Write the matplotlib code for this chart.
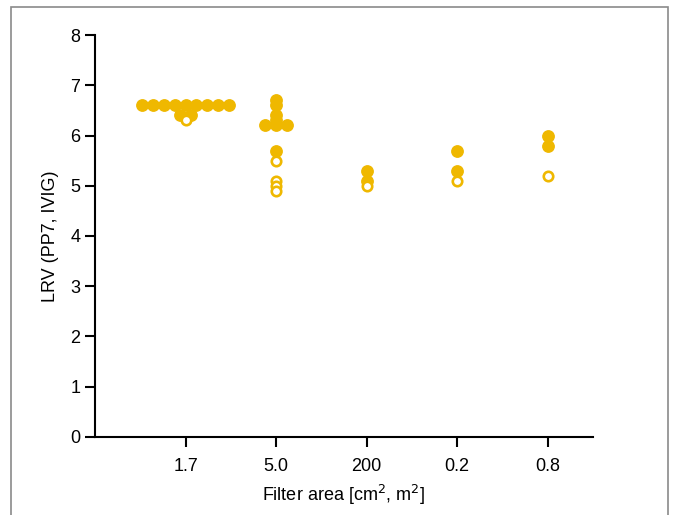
import matplotlib.pyplot as plt
from matplotlib.patches import Rectangle

plt.rcParams['font.family'] = ['Liberation Sans', 'DejaVu Sans']

# filter area categories (x axis)
categories = ['1.7', '5.0', '200', '0.2', '0.8']

# each point: category index, LRV value, horizontal jitter (category units), filled?
point_cat = [1, 1, 1, 1, 1, 1, 1, 1, 1, 1, 1, 1,
             2, 2, 2, 2, 2, 2, 2, 2, 2, 2, 2, 2,
             3, 3, 3,
             4, 4, 4,
             5, 5, 5]
point_lrv = [6.6, 6.6, 6.6, 6.6, 6.6, 6.6, 6.6, 6.6, 6.6, 6.4, 6.4, 6.3,
             6.7, 6.6, 6.4, 6.3, 6.2, 6.2, 6.2, 5.7, 5.5, 5.1, 5.0, 4.9,
             5.3, 5.1, 5.0,
             5.7, 5.3, 5.1,
             6.0, 5.8, 5.2]
point_jit = [-0.48, -0.36, -0.24, -0.12, 0.0, 0.12, 0.24, 0.36, 0.48, -0.06, 0.06, 0.0,
             0.0, 0.0, 0.0, 0.0, 0.0, -0.12, 0.12, 0.0, 0.0, 0.0, 0.0, 0.0,
             0.0, 0.0, 0.0,
             0.0, 0.0, 0.0,
             0.0, 0.0, 0.0]
point_filled = [1, 1, 1, 1, 1, 1, 1, 1, 1, 1, 1, 0,
                1, 1, 1, 1, 1, 1, 1, 1, 0, 0, 0, 0,
                1, 1, 0,
                1, 1, 0,
                1, 1, 0]

gold = '#EFB800'

fig = plt.figure(figsize=(6.79, 5.15), dpi=100)
fig.patches.append(Rectangle((11 / 679, -0.05), 657 / 679, 1.05 - 7 / 515,
                             transform=fig.transFigure, fill=False,
                             edgecolor='#8a8a8a', linewidth=1.2))
ax = fig.add_axes([0.14, 0.1515, 0.7333, 0.7805])

for c, v, j, f in zip(point_cat, point_lrv, point_jit, point_filled):
    if f:
        ax.plot(c + j, v, 'o', ms=8.2, color=gold, mec=gold, zorder=3)
    else:
        ax.plot(c + j, v, 'o', ms=6.8, mfc='white', mec=gold, mew=1.9, zorder=4)

ax.set_xlim(0, 5.5)
ax.set_ylim(0, 8)
ax.set_xticks(range(1, 6))
ax.set_xticklabels(categories)
ax.set_yticks(range(0, 9))
for s in ['top', 'right']:
    ax.spines[s].set_visible(False)
for s in ['left', 'bottom']:
    ax.spines[s].set_linewidth(1.5)
ax.tick_params(axis='both', length=7, width=1.5, labelsize=13)
ax.tick_params(axis='x', pad=8)
ax.set_xlabel('Filter area [cm$^2$, m$^2$]', fontsize=13, labelpad=6)
ax.set_ylabel('LRV (PP7, IVIG)', fontsize=13, labelpad=8)

fig.savefig('out.png', dpi=100)
